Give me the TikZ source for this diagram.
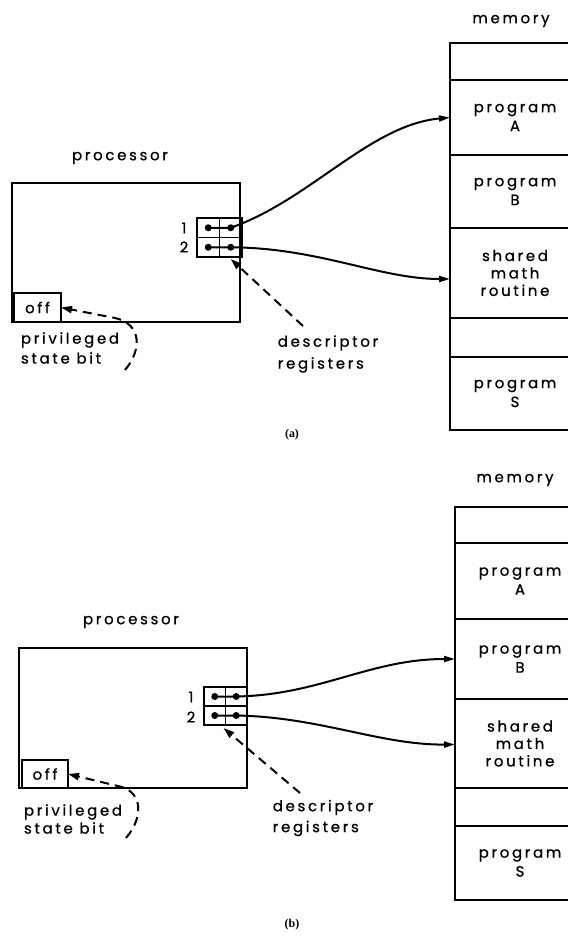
\documentclass[tikz,border=0pt]{standalone}
\usepackage{fontspec}
\setmainfont{Poppins}[LetterSpace=18, FakeBold=0.8]
\newfontfamily\capfont{Liberation Serif}
\usetikzlibrary{arrows.meta,calc}
\tikzset{
  lett/.style={font=\fontsize{15}{19}\selectfont, inner sep=0pt, align=center},
  cell/.style={draw, line width=2bp, anchor=north west, minimum width=130bp,
    inner sep=0pt, outer sep=0pt, font=\fontsize{15}{19}\selectfont, align=center},
  pbox/.style={draw, line width=2bp, anchor=north west, inner sep=0pt, outer sep=0pt},
  reg/.style={draw, line width=1.5bp, anchor=north west, inner sep=0pt, outer sep=0pt},
  dot/.style={circle, fill, inner sep=0pt, minimum size=7bp},
  link/.style={line width=2bp, -{Triangle[length=11bp,width=6bp]}},
  dlink/.style={line width=2bp, dash pattern=on 9bp off 6bp, -{Triangle[length=11bp,width=7bp]}},
  sublabel/.style={font=\capfont\bfseries\fontsize{12}{14}\selectfont, inner sep=0pt}
}
\begin{document}
\begin{tikzpicture}[x=1bp, y=-1bp]
\clip (0,0) rectangle (568,941);
\fill[white] (0,0) rectangle (568,941);

% ---------------- panel (a) ----------------
% memory column
\node[lett] (a-memlbl) at (511,21) {memory};
\node[cell, minimum height=37bp] (a-m0) at (450,43) {};
\node[cell, minimum height=75bp] (a-A) at (450,80) {program\\A};
\node[cell, minimum height=73bp] (a-B) at (450,155) {program\\B};
\node[cell, minimum height=90bp, font=\fontsize{15}{17.5}\selectfont] (a-sh) at (450,228) {shared\\math\\routine};
\node[cell, minimum height=39bp] (a-m4) at (450,318) {};
\node[cell, minimum height=73bp] (a-S) at (450,357) {program\\S};

% processor with its registers
\node[lett] (a-plbl) at (120,158) {processor};
\node[pbox, minimum width=228bp, minimum height=139bp] (a-proc) at (12,183) {};
\node[pbox, minimum width=47bp, minimum height=29bp, font=\fontsize{15}{19}\selectfont] (a-off) at (14,293) {off};
\node[reg, minimum width=22.5bp, minimum height=19.5bp] (a-r1a) at (197,218) {};
\node[reg, minimum width=22.5bp, minimum height=19.5bp] (a-r1b) at (219.5,218) {};
\node[reg, minimum width=22.5bp, minimum height=19.5bp] (a-r2a) at (197,237.5) {};
\node[reg, minimum width=22.5bp, minimum height=19.5bp] (a-r2b) at (219.5,237.5) {};
\node[dot] (a-d1l) at (a-r1a.center) {};
\node[dot] (a-d1r) at (a-r1b.center) {};
\node[dot] (a-d2l) at (a-r2a.center) {};
\node[dot] (a-d2r) at (a-r2b.center) {};
\node[lett] (a-n1) at (184,228) {1};
\node[lett] (a-n2) at (184,247) {2};

% descriptors pointing into memory
\draw[link] (a-d1l.center) -- (a-d1r.center) .. controls (310,200) and (370,125) .. (a-A.west);
\draw[link] (a-d2l.center) -- (a-d2r.center) .. controls (320,248) and (380,279) .. ($(a-sh.west)+(0,6)$);

% annotations
\node[lett, align=left, font=\fontsize{15}{20}\selectfont] (a-plab) at (70,348) {privileged\\state bit};
\coordinate (a-pstart) at (125,370);
\draw[dlink] (a-pstart) .. controls (142,350) and (142,324) .. (115,318) -- (a-off.east);
\node[lett, align=left, font=\fontsize{15}{22}\selectfont] (a-dlab) at (328,354) {descriptor\\registers};
\coordinate (a-dstart) at (303,326);
\draw[dlink] (a-dstart) -- ($(a-r2b.south)+(0,2)$);
\node[sublabel] (a-cap) at (292,435) {(a)};

% ---------------- panel (b) ----------------
\node[lett] (b-memlbl) at (515,480) {memory};
\node[cell, minimum height=36bp] (b-m0) at (455,507) {};
\node[cell, minimum height=76bp] (b-A) at (455,543) {program\\A};
\node[cell, minimum height=80bp] (b-B) at (455,619) {program\\B};
\node[cell, minimum height=89bp, font=\fontsize{15}{17.5}\selectfont] (b-sh) at (455,699) {shared\\math\\routine};
\node[cell, minimum height=38bp] (b-m4) at (455,788) {};
\node[cell, minimum height=74bp] (b-S) at (455,826) {program\\S};

\node[lett] (b-plbl) at (131,622) {processor};
\node[pbox, minimum width=228bp, minimum height=140bp] (b-proc) at (19,648) {};
\node[pbox, minimum width=46bp, minimum height=28bp, font=\fontsize{15}{19}\selectfont] (b-off) at (22,760) {off};
\node[reg, minimum width=21.5bp, minimum height=19bp] (b-r1a) at (204,687) {};
\node[reg, minimum width=21.5bp, minimum height=19bp] (b-r1b) at (225.5,687) {};
\node[reg, minimum width=21.5bp, minimum height=19bp] (b-r2a) at (204,706) {};
\node[reg, minimum width=21.5bp, minimum height=19bp] (b-r2b) at (225.5,706) {};
\node[dot] (b-d1l) at (b-r1a.center) {};
\node[dot] (b-d1r) at (b-r1b.center) {};
\node[dot] (b-d2l) at (b-r2a.center) {};
\node[dot] (b-d2r) at (b-r2b.center) {};
\node[lett] (b-n1) at (191,697) {1};
\node[lett] (b-n2) at (191,717) {2};

\draw[link] (b-d1l.center) -- (b-d1r.center) .. controls (320,695) and (370,659) .. (b-B.west);
\draw[link] (b-d2l.center) -- (b-d2r.center) .. controls (320,717) and (380,745) .. ($(b-sh.west)+(0,1)$);

\node[lett, align=left, font=\fontsize{15}{18}\selectfont] (b-plab) at (73,819) {privileged\\state bit};
\coordinate (b-pstart) at (126,838);
\draw[dlink] (b-pstart) .. controls (143,818) and (143,794) .. (122,787) -- (b-off.east);
\node[lett, align=left, font=\fontsize{15}{21}\selectfont] (b-dlab) at (323,818) {descriptor\\registers};
\coordinate (b-dstart) at (300,793);
\draw[dlink] (b-dstart) -- ($(b-r2a.south east)+(-2,3)$);
\node[sublabel] (b-cap) at (292,925) {(b)};
\end{tikzpicture}
\end{document}
